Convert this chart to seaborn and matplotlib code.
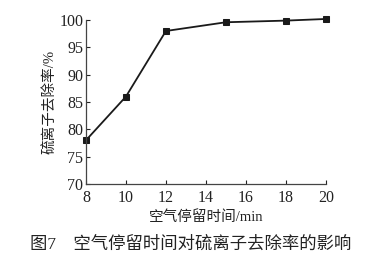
import matplotlib
matplotlib.use("Agg")
import matplotlib.pyplot as plt
import seaborn as sns
import pandas as pd

time_min = [8, 10, 12, 15, 18, 20]
removal_rate = [78.0, 86.0, 98.0, 99.6, 99.9, 100.2]
x_ticks = [8, 10, 12, 14, 16, 18, 20]
y_ticks = [70, 75, 80, 85, 90, 95, 100]

sns.set_theme(style="ticks")
fam = ['Liberation Serif', 'Noto Sans CJK SC']
plt.rcParams['font.family'] = fam

df = pd.DataFrame({"t": time_min, "r": removal_rate})

fig = plt.figure(figsize=(3.82, 2.64), dpi=100)
ax = fig.add_axes([0.225, 0.303, 0.628, 0.621])
sns.lineplot(data=df, x="t", y="r", ax=ax, color="#1a1a1a", linewidth=1.3,
             marker="s", markersize=4.5, markeredgecolor="#1a1a1a", clip_on=False)
ax.set_xlim(8, 20)
ax.set_ylim(70, 100)
ax.set_xticks(x_ticks)
ax.set_yticks(y_ticks)
ax.tick_params(direction="in", length=3, width=0.8, labelsize=11.5, colors="#222222", pad=2)
ax.tick_params(axis="x", pad=4)
for s in ["top", "right"]:
    ax.spines[s].set_visible(False)
for s in ["left", "bottom"]:
    ax.spines[s].set_color("#444444")
    ax.spines[s].set_linewidth(0.9)
ax.set_xlabel("空气停留时间/min", fontsize=10.5, color="#222222", labelpad=3, family=fam)
ax.set_ylabel("硫离子去除率/%", fontsize=10.5, color="#222222", labelpad=1, family=fam)
fig.text(0.5, 0.072, "图7　空气停留时间对硫离子去除率的影响", ha="center", va="center",
         fontsize=12.5, color="#222222", family=fam)
fig.savefig("out.png", dpi=100)
